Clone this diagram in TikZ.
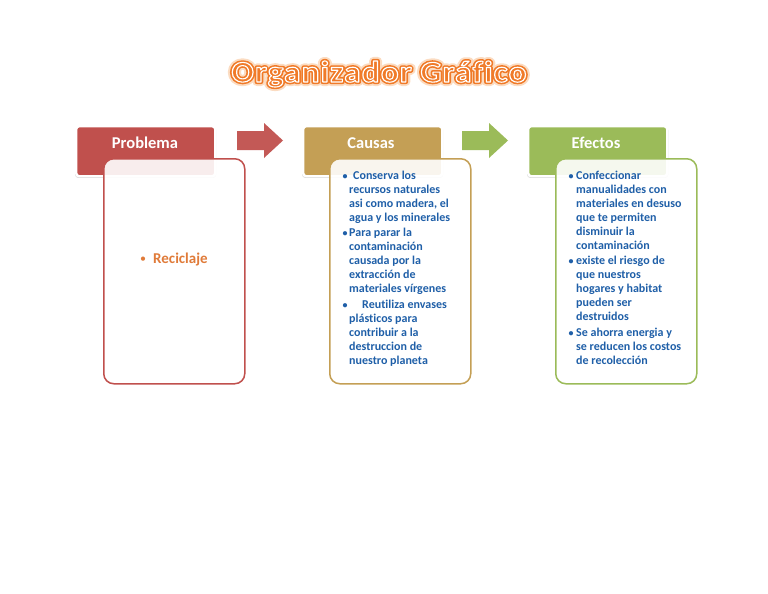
\documentclass[tikz,border=0pt]{standalone}
\usepackage{fontspec}
\setmainfont{Carlito}[Ligatures=NoCommon]
\newfontfamily\ttlfam[LetterSpace=4,Ligatures=NoCommon]{Carlito}
\usetikzlibrary{shadows}
\definecolor{redh}{HTML}{C0504D}
\definecolor{tanh}{HTML}{C49F55}
\definecolor{greenh}{HTML}{9BBB59}
\definecolor{txtblue}{HTML}{1F5FA8}
\definecolor{recorange}{HTML}{E07B39}
\definecolor{ttlorange}{HTML}{F07A28}
\definecolor{ttlglow}{HTML}{FBDCC2}
\newcommand\ttltext{Organizador Gráfico}
\newcommand\strk[2]{\special{pdf:code #1 Tr #2 w 1 j}}
\newcommand\unstrk{\special{pdf:code 0 Tr 1 w}}
\begin{document}
\begin{tikzpicture}[x=1pt,y=-1pt,
  header/.style={draw=white, line width=2.4pt, rounded corners=3pt, minimum width=139pt, minimum height=50pt, anchor=north west, inner sep=0pt,
    general shadow={fill=black!45, opacity=0.35, shadow xshift=0pt, shadow yshift=-1.3pt, shadow scale=1.015}},
  body/.style={fill=white, fill opacity=0.9, line width=1.5pt, rounded corners=10pt, anchor=north west, inner sep=0pt, minimum width=141pt, minimum height=225pt},
  htext/.style={anchor=base, inner sep=0pt, text=white, font=\bfseries\fontsize{16.5}{20}\selectfont},
  ln/.style={anchor=base west, inner sep=0pt, text=txtblue, font=\bfseries\fontsize{12}{14}\selectfont},
  blt/.style={anchor=base, inner sep=0pt, text=txtblue, font=\bfseries\fontsize{10}{14}\selectfont},
  ttlfont/.style={anchor=base, inner sep=0pt, xscale=1.1, transform shape, font=\ttlfam\bfseries\fontsize{30}{34}\selectfont}
]
\useasboundingbox (0,0) rectangle (768,594);
% title
\node[ttlfont, text=ttlglow] (titleglow) at (379,82) {\strk{2}{8}\ttltext\unstrk};
\node[ttlfont, text=ttlorange] (titleout) at (379,82) {\strk{2}{4.2}\ttltext\unstrk};
\node[ttlfont, text=white] (titlewhite) at (379,82) {\strk{1}{1.1}\ttltext\unstrk};

% headers
\node[header, fill=redh] (h1) at (75,125) {};
\node[header, fill=tanh] (h2) at (302,125) {};
\node[header, fill=greenh] (h3) at (527,125) {};
\node[htext] (h1t) at (145,148) {Problema};
\node[htext] (h2t) at (371,148) {Causas};
\node[htext] (h3t) at (596,148) {Efectos};

% arrows
\fill[redh!95!white] (237,131) -- (264,131) -- (264,123) -- (283,140.5) -- (264,158) -- (264,150) -- (237,150) -- cycle;
\fill[greenh] (462,131) -- (489,131) -- (489,123) -- (508,140.5) -- (489,158) -- (489,150) -- (462,150) -- cycle;

% bodies
\node[body, draw=redh] (b1) at (103,158) {};
\node[body, draw=tanh] (b2) at (329,158) {};
\node[body, draw=greenh] (b3) at (555,158) {};

% Problema content
\node[anchor=base, inner sep=0pt, text=recorange, font=\fontsize{12}{14}\selectfont] (r0) at (143,262) {\textbullet};
\node[anchor=base west, inner sep=0pt, text=recorange, font=\bfseries\fontsize{15}{18}\selectfont] (r1) at (153,263) {Reciclaje};

% Causas content
\node[blt] (cb1) at (345,179) {\textbullet};
\node[blt] (cb2) at (345,236) {\textbullet};
\node[blt] (cb3) at (345,308) {\textbullet};
\node[ln] (c11) at (353,179) {Conserva los};
\foreach \t [count=\i] in {recursos naturales,{asi como madera, el},agua y los minerales}{
  \node[ln] (c1l\i) at (349,179+14*\i) {\t};
}
\foreach \t [count=\i from 0] in {Para parar la,contaminación,causada por la,extracción de,materiales vírgenes}{
  \node[ln] (c2l\i) at (349,236+14*\i) {\t};
}
\node[ln] (c31) at (362,308) {Reutiliza envases};
\foreach \t [count=\i] in {plásticos para,contribuir a la,destruccion de,nuestro planeta}{
  \node[ln] (c3l\i) at (349,308+14*\i) {\t};
}

% Efectos content
\node[blt] (eb1) at (571,179) {\textbullet};
\node[blt] (eb2) at (571,264) {\textbullet};
\node[blt] (eb3) at (571,336) {\textbullet};
\foreach \t [count=\i from 0] in {Confeccionar,manualidades con,materiales en desuso,que te permiten,disminuir la,contaminación}{
  \node[ln] (e1l\i) at (576,179+14*\i) {\t};
}
\foreach \t [count=\i from 0] in {existe el riesgo de,que nuestros,hogares y habitat,pueden ser,destruidos}{
  \node[ln] (e2l\i) at (576,264+14.2*\i) {\t};
}
\foreach \t [count=\i from 0] in {Se ahorra energia y,se reducen los costos,de recolección}{
  \node[ln] (e3l\i) at (576,336+14*\i) {\t};
}
\end{tikzpicture}
\end{document}
